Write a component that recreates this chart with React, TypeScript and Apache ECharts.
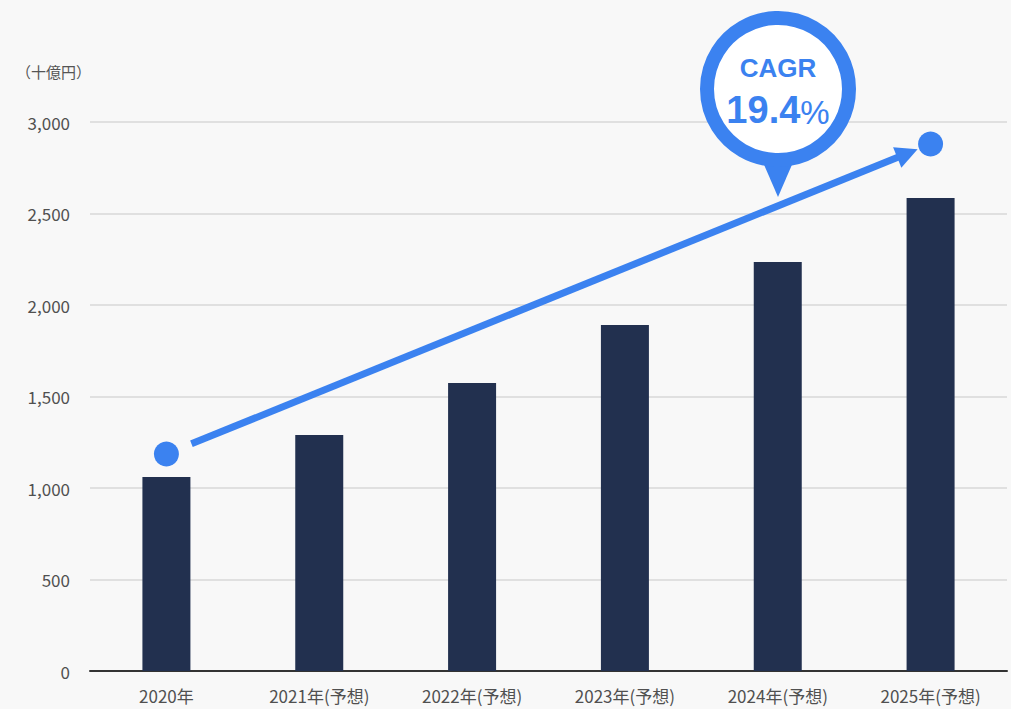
import React, { useEffect, useRef } from "react";
import * as echarts from "echarts";

const categories = ["2020年", "2021年(予想)", "2022年(予想)", "2023年(予想)", "2024年(予想)", "2025年(予想)"];
const values = [1060, 1290, 1574, 1891, 2235, 2585];
const trendDots = [1186, "-", "-", "-", "-", 2880];
const yMin = 0;
const yMax = 3000;
const yInterval = 500;
const unitLabel = "（十億円）";
const cagrTitle = "CAGR";
const cagrValue = "19.4";

const BLUE = "#3b82f0";
const FONT = "'Noto Sans CJK JP', 'Noto Sans', sans-serif";

export default function App() {
  const ref = useRef<HTMLDivElement>(null);
  useEffect(() => {
    document.body.style.margin = "0";
    const chart = echarts.init(ref.current!, null, { renderer: "svg" });
    chart.setOption({
      animation: false,
      backgroundColor: "#f8f8f8",
      textStyle: { fontFamily: FONT },
      grid: { left: 90, right: 4, top: 122, bottom: 38 },
      xAxis: {
        type: "category",
        data: categories,
        axisLine: { lineStyle: { color: "#333", width: 2 } },
        axisTick: { show: false },
        axisLabel: { color: "#505050", fontSize: 17, margin: 16, fontFamily: FONT },
      },
      yAxis: {
        type: "value",
        min: yMin,
        max: yMax,
        interval: yInterval,
        axisLine: { show: false },
        axisTick: { show: false },
        splitLine: { lineStyle: { color: "#d9d9d9", width: 1.5 } },
        axisLabel: {
          color: "#505050",
          fontSize: 17,
          margin: 20,
          fontFamily: FONT,
          formatter: (v: number) => v.toLocaleString("en-US"),
        },
      },
      series: [
        {
          type: "bar",
          data: values,
          barWidth: 48,
          itemStyle: { color: "#22304f" },
        },
        {
          type: "scatter",
          data: trendDots,
          symbolSize: 25,
          itemStyle: { color: BLUE, opacity: 1 },
          z: 5,
        },
      ],
    });

    const p1 = chart.convertToPixel({ seriesIndex: 1 }, [0, trendDots[0] as number]) as number[];
    const p2 = chart.convertToPixel({ seriesIndex: 1 }, [5, trendDots[5] as number]) as number[];
    const dx = p2[0] - p1[0];
    const dy = p2[1] - p1[1];
    const len = Math.sqrt(dx * dx + dy * dy);
    const ux = dx / len;
    const uy = dy / len;
    const nx = -uy;
    const ny = ux;
    const start = [p1[0] + ux * 27, p1[1] + uy * 27];
    const tip = [p2[0] - ux * 14, p2[1] - uy * 14];
    const base = [tip[0] - ux * 22, tip[1] - uy * 22];
    const hw = 11;

    const bx = 778;
    const by = 89;

    chart.setOption({
      graphic: [
        {
          type: "text",
          left: 16,
          top: 64,
          style: { text: unitLabel, fill: "#555", fontSize: 15, fontFamily: FONT },
        },
        {
          type: "line",
          shape: { x1: start[0], y1: start[1], x2: base[0] + ux * 2, y2: base[1] + uy * 2 },
          style: { stroke: BLUE, lineWidth: 7 },
          z: 10,
        },
        {
          type: "polygon",
          shape: {
            points: [
              [tip[0], tip[1]],
              [base[0] + nx * hw, base[1] + ny * hw],
              [base[0] - nx * hw, base[1] - ny * hw],
            ],
          },
          style: { fill: BLUE },
          z: 10,
        },
        {
          type: "polygon",
          shape: { points: [[bx - 16, by + 71], [bx + 16, by + 71], [bx, by + 108]] },
          style: { fill: BLUE },
          z: 11,
        },
        {
          type: "circle",
          shape: { cx: bx, cy: by, r: 71 },
          style: { fill: "#ffffff", stroke: BLUE, lineWidth: 14 },
          z: 12,
        },
        {
          type: "text",
          x: bx,
          y: by - 21,
          style: {
            text: cagrTitle,
            fill: BLUE,
            fontSize: 26,
            fontWeight: "bold",
            fontFamily: "'Liberation Sans', Arial, sans-serif",
            align: "center",
            verticalAlign: "middle",
          },
          z: 13,
        },
        {
          type: "text",
          x: bx,
          y: by + 21,
          style: {
            text: "{a|" + cagrValue + "}{b|%}",
            align: "center",
            verticalAlign: "middle",
            rich: {
              a: {
                fill: BLUE,
                fontSize: 38,
                fontWeight: "bold",
                fontFamily: "'Liberation Sans', Arial, sans-serif",
                verticalAlign: "bottom",
              },
              b: {
                fill: BLUE,
                fontSize: 33,
                fontWeight: "normal",
                fontFamily: "'Liberation Sans', Arial, sans-serif",
                verticalAlign: "bottom",
              },
            },
          },
          z: 13,
        },
      ],
    });

    return () => chart.dispose();
  }, []);
  return <div ref={ref} style={{ width: 1011, height: 709 }} />;
}
